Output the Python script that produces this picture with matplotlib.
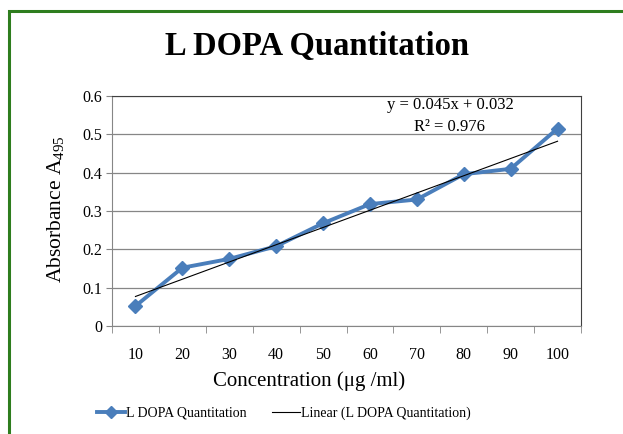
import matplotlib
matplotlib.use("Agg")
import matplotlib.pyplot as plt
import numpy as np
from matplotlib.patches import Rectangle
from matplotlib.lines import Line2D

categories = ["10", "20", "30", "40", "50", "60", "70", "80", "90", "100"]
absorbance = [0.052, 0.152, 0.175, 0.208, 0.268, 0.318, 0.330, 0.396, 0.410, 0.515]
y_ticks = [0, 0.1, 0.2, 0.3, 0.4, 0.5, 0.6]
y_tick_labels = ["0", "0.1", "0.2", "0.3", "0.4", "0.5", "0.6"]
slope, intercept = 0.045, 0.032

plt.rcParams['font.family'] = ['Liberation Serif', 'DejaVu Serif']
plt.rcParams['mathtext.fontset'] = 'custom'
plt.rcParams['mathtext.rm'] = 'Liberation Serif'
plt.rcParams['mathtext.it'] = 'Liberation Serif'

W, H = 623, 434
fig = plt.figure(figsize=(W/100, H/100), dpi=100)

# green frame
fig.patches.append(Rectangle((9/W, -0.1), 1.2, (H-11)/H + 0.1, transform=fig.transFigure,
                             fill=False, edgecolor='#2e7d1e', linewidth=2.2))

ax = fig.add_axes([112/W, 1-326/H, (581-112)/W, (326-96)/H])
x = np.arange(1, len(categories)+1)
ax.plot(x, absorbance, color='#4a7ebb', linewidth=2.8, marker='D', markersize=7,
        markerfacecolor='#4a7ebb', markeredgecolor='#4a7ebb', zorder=3)
xf = np.array([x[0], x[-1]])
ax.plot(xf, slope*xf + intercept, color='black', linewidth=0.8, zorder=4)

ax.set_xlim(0.5, len(categories)+0.5)
ax.set_ylim(0, 0.6)
ax.set_yticks(y_ticks)
ax.set_yticklabels(y_tick_labels, fontsize=11.5)
ax.set_xticks(x)
ax.set_xticklabels(categories, fontsize=11.5)
ax.set_xticks(np.arange(0.5, len(categories)+1, 1), minor=True)
ax.tick_params(axis='x', which='major', length=0, pad=15)
ax.tick_params(axis='x', which='minor', length=5, color='#868686')
ax.tick_params(axis='y', length=4, color='#868686', pad=3)
ax.grid(axis='y', color='#868686', linewidth=0.9)
ax.set_axisbelow(True)
for s in ['left', 'bottom']:
    ax.spines[s].set_color('#868686')
for s in ['top', 'right']:
    ax.spines[s].set_color('#404040')

ax.text((450-112)/469, 1-(105-96)/230, "y = 0.045x + 0.032", transform=ax.transAxes,
        ha='center', va='center', fontsize=12)
ax.text((450-112)/469, 1-(127-96)/230, "R² = 0.976", transform=ax.transAxes,
        ha='center', va='center', fontsize=12)

fig.text(317/W, 1-47/H, "L DOPA Quantitation", ha='center', va='center',
         fontsize=23.5, fontweight='bold')
fig.text(55/W, 1-209/H, "Absorbance A$_{495}$", rotation=90, ha='center', va='center',
         fontsize=15.5)
fig.text(309/W, 1-381/H, "Concentration (μg /ml)", ha='center', va='center', fontsize=15)

h1 = Line2D([], [], color='#4a7ebb', linewidth=2.8, marker='D', markersize=6)
h2 = Line2D([], [], color='black', linewidth=0.8)
fig.legend([h1, h2], ["L DOPA Quantitation", "Linear (L DOPA Quantitation)"],
           loc='center', bbox_to_anchor=(284/W, 1-413/H), ncol=2, frameon=False,
           fontsize=10, handlelength=2.0, columnspacing=1.8, handletextpad=0.1)

fig.savefig("out.png", dpi=100)
